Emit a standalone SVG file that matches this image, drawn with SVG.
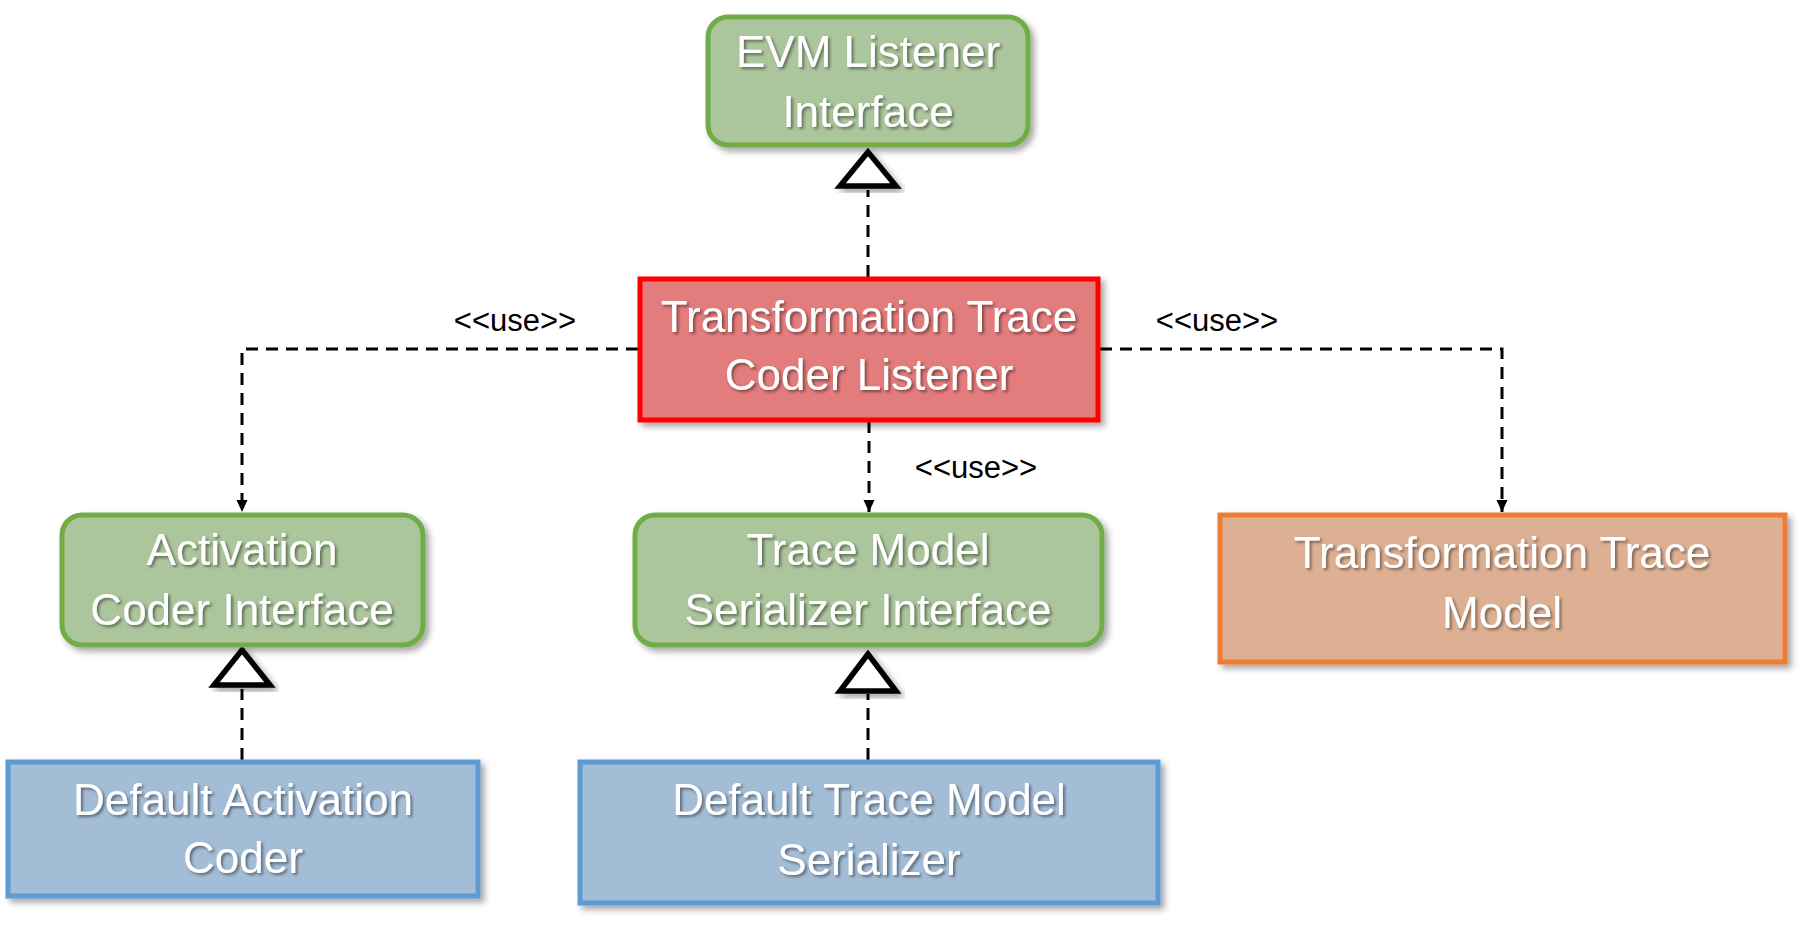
<svg xmlns="http://www.w3.org/2000/svg" width="1800" height="932" viewBox="0 0 1800 932">
<defs>
  <filter id="boxShadow" x="-10%" y="-10%" width="125%" height="130%">
    <feDropShadow dx="4" dy="4" stdDeviation="3" flood-color="#000" flood-opacity="0.35"/>
  </filter>
  <filter id="textShadow" x="-10%" y="-30%" width="120%" height="160%">
    <feDropShadow dx="2" dy="2" stdDeviation="1.8" flood-color="#000" flood-opacity="0.45"/>
  </filter>
  <marker id="arrowUse" markerUnits="userSpaceOnUse" markerWidth="14" markerHeight="14" viewBox="0 0 14 14" refX="13" refY="7" orient="auto">
    <path d="M1,1.5 L13,7 L1,12.5 Z" fill="#000"/>
  </marker>
  <style>
    .green { fill: #abc59c; stroke: #70ad47; stroke-width: 5; }
    .red { fill: #e37b7b; stroke: #ff0000; stroke-width: 5; }
    .orange { fill: #ddb093; stroke: #ed7d31; stroke-width: 5; }
    .blue { fill: #a4bdd6; stroke: #5b9bd5; stroke-width: 5; }
    .label { font-family: "Liberation Sans", Arial, sans-serif; font-size: 44px; fill: #ffffff; text-anchor: middle; }
    .use { font-family: "Liberation Sans", Arial, sans-serif; font-size: 31px; fill: #000000; text-anchor: middle; }
    .dash { fill: none; stroke: #000; stroke-width: 3; stroke-dasharray: 12 8; }
    .gen { fill: #ffffff; stroke: #000; stroke-width: 5.5; stroke-linejoin: miter; }
  </style>
</defs>

<g id="connectors">
  <!-- realization: Transformation Trace Coder Listener -> EVM Listener Interface -->
  <line class="dash" x1="868" y1="277" x2="868" y2="190"/>
  <polygon class="gen" points="868,152 840,186 896,186" filter="url(#boxShadow)"/>
  <!-- use: left -->
  <polyline class="dash" points="638,349 242,349 242,512" marker-end="url(#arrowUse)"/>
  <!-- use: right -->
  <polyline class="dash" points="1100,349 1502,349 1502,512" marker-end="url(#arrowUse)"/>
  <!-- use: middle -->
  <line class="dash" x1="869" y1="421" x2="869" y2="512" marker-end="url(#arrowUse)"/>
  <!-- realization: Default Activation Coder -> Activation Coder Interface -->
  <line class="dash" x1="242" y1="760" x2="242" y2="689"/>
  <polygon class="gen" points="242,650 214,685 270,685" filter="url(#boxShadow)"/>
  <!-- realization: Default Trace Model Serializer -> Trace Model Serializer Interface -->
  <line class="dash" x1="868" y1="760" x2="868" y2="694"/>
  <polygon class="gen" points="868,654 840,691 896,691" filter="url(#boxShadow)"/>
  <text class="use" x="515" y="331">&lt;&lt;use&gt;&gt;</text>
  <text class="use" x="1217" y="331">&lt;&lt;use&gt;&gt;</text>
  <text class="use" x="976" y="478">&lt;&lt;use&gt;&gt;</text>
</g>

<g id="evm-listener-interface">
  <rect class="green" x="708" y="17" width="320" height="128" rx="20" ry="20" filter="url(#boxShadow)"/>
  <g filter="url(#textShadow)">
    <text class="label" x="868" y="67">EVM Listener</text>
    <text class="label" x="868" y="127">Interface</text>
  </g>
</g>

<g id="transformation-trace-coder-listener">
  <rect class="red" x="640" y="279" width="458" height="141" filter="url(#boxShadow)"/>
  <g filter="url(#textShadow)">
    <text class="label" x="869" y="332">Transformation Trace</text>
    <text class="label" x="869" y="390">Coder Listener</text>
  </g>
</g>

<g id="activation-coder-interface">
  <rect class="green" x="62" y="515" width="361" height="130" rx="20" ry="20" filter="url(#boxShadow)"/>
  <g filter="url(#textShadow)">
    <text class="label" x="242" y="565">Activation</text>
    <text class="label" x="242" y="625">Coder Interface</text>
  </g>
</g>

<g id="trace-model-serializer-interface">
  <rect class="green" x="635" y="515" width="467" height="130" rx="20" ry="20" filter="url(#boxShadow)"/>
  <g filter="url(#textShadow)">
    <text class="label" x="868" y="565">Trace Model</text>
    <text class="label" x="868" y="625">Serializer Interface</text>
  </g>
</g>

<g id="transformation-trace-model">
  <rect class="orange" x="1220" y="515" width="565" height="147" filter="url(#boxShadow)"/>
  <g filter="url(#textShadow)">
    <text class="label" x="1502" y="568">Transformation Trace</text>
    <text class="label" x="1502" y="628">Model</text>
  </g>
</g>

<g id="default-activation-coder">
  <rect class="blue" x="8" y="762" width="470" height="134" filter="url(#boxShadow)"/>
  <g filter="url(#textShadow)">
    <text class="label" x="243" y="815">Default Activation</text>
    <text class="label" x="243" y="873">Coder</text>
  </g>
</g>

<g id="default-trace-model-serializer">
  <rect class="blue" x="580" y="762" width="578" height="141" filter="url(#boxShadow)"/>
  <g filter="url(#textShadow)">
    <text class="label" x="869" y="815">Default Trace Model</text>
    <text class="label" x="869" y="875">Serializer</text>
  </g>
</g>
</svg>
